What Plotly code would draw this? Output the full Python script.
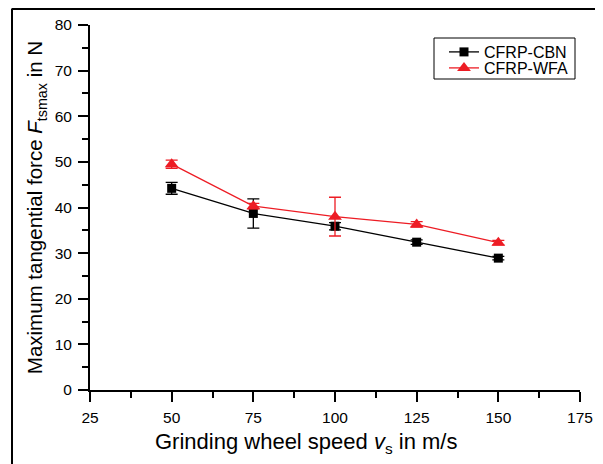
import plotly.graph_objects as go

speed = [50, 75, 100, 125, 150]
cbn = [44.2, 38.7, 35.9, 32.4, 28.9]
cbn_err = [1.3, 3.2, 0.8, 0.5, 0.4]
wfa = [49.5, 40.3, 38.0, 36.3, 32.3]
wfa_err = [0.9, 0.6, 4.25, 0.6, 0.5]

RED = "#ED1C24"
W, H = 603, 464
OFF = 8  # browser default body margin
# plot area in screen pixels
SX0, SX1, SY0, SY1 = 90, 580, 25, 390
L, R = SX0 - OFF, W - (SX1 - OFF)
T, B = SY0 - OFF, H - (SY1 - OFF)
pw, ph = W - L - R, H - T - B


def px(sx):
    return (sx - SX0) / pw


def py(sy):
    return 1 - (sy - SY0) / ph


fig = go.Figure()
fig.add_trace(go.Scatter(
    x=speed, y=cbn, name="CFRP-CBN", mode="lines+markers", legend="legend",
    line=dict(color="black", width=1.3),
    marker=dict(symbol="square", size=9, color="black"),
    error_y=dict(type="data", array=cbn_err, color="black", thickness=1.3, width=6),
))
fig.add_trace(go.Scatter(
    x=speed, y=wfa, name="CFRP-WFA", mode="lines+markers", legend="legend2",
    line=dict(color=RED, width=1.3),
    marker=dict(symbol="triangle-up", size=12, color=RED),
    error_y=dict(type="data", array=wfa_err, color=RED, thickness=1.3, width=6),
))

font = dict(family="Liberation Sans, Arial, sans-serif", color="black")
leg_common = dict(xanchor="left", yanchor="top", borderwidth=0,
                  bgcolor="rgba(0,0,0,0)", font=dict(size=16, **font))

fig.update_layout(
    width=W, height=H,
    margin=dict(l=L, r=R, t=T, b=B, autoexpand=False),
    paper_bgcolor="white", plot_bgcolor="white",
    font=font,
    showlegend=True,
    legend=dict(x=px(444), y=py(35), **leg_common),
    legend2=dict(x=px(444), y=py(51), **leg_common),
    xaxis=dict(
        range=[25, 175], tickvals=[25, 50, 75, 100, 125, 150, 175],
        showgrid=False, zeroline=False,
        showline=True, linecolor="black", linewidth=2,
        ticks="outside", ticklen=10, tickwidth=2, tickcolor="black",
        minor=dict(dtick=12.5, tick0=25, ticks="outside", ticklen=6, tickwidth=2, tickcolor="black"),
        tickfont=dict(size=15.5, **font),
        ticklabelstandoff=2,
    ),
    yaxis=dict(
        range=[0, 80], tickvals=[0, 10, 20, 30, 40, 50, 60, 70, 80],
        showgrid=False, zeroline=False,
        showline=True, linecolor="black", linewidth=2,
        ticks="outside", ticklen=10, tickwidth=2, tickcolor="black",
        minor=dict(dtick=5, tick0=0, ticks="outside", ticklen=6, tickwidth=2, tickcolor="black"),
        tickfont=dict(size=15.5, **font),
        ticklabelstandoff=3,
        title=dict(text="Maximum tangential force <i>F</i><sub>tsmax</sub> in N",
                   font=dict(size=20.5, **font), standoff=6),
    ),
    annotations=[
        dict(text="Grinding wheel speed <i>v</i><sub>s</sub> in m/s",
             xref="paper", yref="paper", x=px(306), y=py(443),
             xanchor="center", yanchor="middle", showarrow=False,
             font=dict(size=22, **font)),
    ],
    shapes=[
        # legend frame
        dict(type="rect", xref="paper", yref="paper",
             x0=px(434), x1=px(575), y0=py(79), y1=py(38),
             line=dict(color="black", width=1), fillcolor="white", layer="below"),
        # outer figure frame
        dict(type="line", xref="paper", yref="paper",
             x0=px(12), x1=1.5, y0=1 + (T - 0.5) / ph, y1=1 + (T - 0.5) / ph,
             line=dict(color="black", width=3)),
        dict(type="line", xref="paper", yref="paper",
             x0=px(12), x1=px(12), y0=1 + (T - 0.5) / ph, y1=-0.5,
             line=dict(color="black", width=2)),
    ],
)

fig.write_html("out.html")
